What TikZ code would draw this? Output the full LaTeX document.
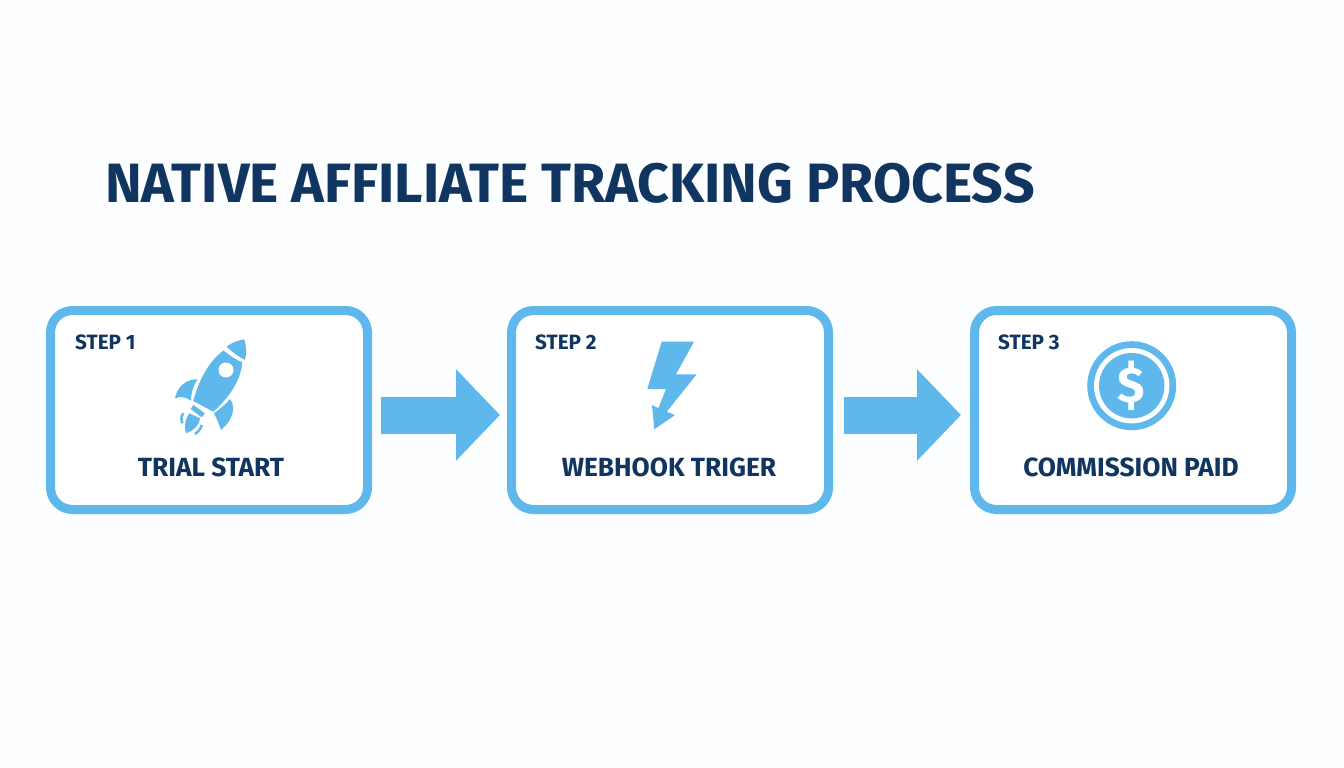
\documentclass[tikz,border=0pt]{standalone}
\usepackage{fontspec}
\setmainfont{Fira Sans}
\usetikzlibrary{arrows.meta}
\definecolor{skyblue}{HTML}{5FB8EC}
\definecolor{navy}{HTML}{0F3560}
\tikzset{
  stepbox/.style={draw=skyblue, line width=9pt, rounded corners=22pt, fill=white, minimum width=317pt, minimum height=199pt, inner sep=0pt},
  steptag/.style={text=navy, font=\fontsize{20.7}{21}\selectfont\bfseries, inner sep=0pt, anchor=west},
  steplabel/.style={text=navy, font=\fontsize{26.3}{27}\selectfont\bfseries, inner sep=0pt},
  flow/.style={draw=skyblue, line width=37pt, -{Triangle[length=44pt,width=89pt]}},
  icon/.style={fill=skyblue, draw=none}
}
\begin{document}
\begin{tikzpicture}[x=1pt,y=-1pt]

\newcommand\BOXY{410}
\newcommand\ARROWDY{-5pt}

\useasboundingbox[fill=white!98!skyblue] (0,0) rectangle (1344,768);

\node[text=navy, font=\fontsize{55.4}{56}\selectfont\bfseries, inner sep=0pt, anchor=west] (title) at (105,183) {NATIVE AFFILIATE TRACKING PROCESS};

%%

\node[stepbox] (boxa) at (209,\BOXY) {};
\node[stepbox] (boxb) at (670,\BOXY) {};
\node[stepbox] (boxc) at (1133,\BOXY) {};

\node[steptag] (taga) at (75,342) {STEP 1};
\node[steptag] (tagb) at (535,342) {STEP 2};
\node[steptag] (tagc) at (998,342) {STEP 3};

\node[steplabel] (labela) at (211,467) {TRIAL START};
\node[steplabel] (labelb) at (669,467) {WEBHOOK TRIGER};
\node[steplabel] (labelc) at (1131,467) {COMMISSION PAID};

%%

\draw[flow, shorten <=9pt, shorten >=7pt] ([yshift=\ARROWDY]boxa.east) -- ([yshift=\ARROWDY]boxb.west);
\draw[flow, shorten <=11pt, shorten >=9pt] ([yshift=\ARROWDY]boxb.east) -- ([yshift=\ARROWDY]boxc.west);

%% rocket

\fill[icon] (244.3,339.3) .. controls (235,341) and (230,344) .. (226.7,346.7) .. controls (232,352) and (239,357) .. (245,360) .. controls (247,353) and (246,345) .. (244.3,339.3);
\fill[icon] (223.5,350.5) .. controls (232,357) and (236,360) .. (242.3,362.3) .. controls (241,378) and (232,395) .. (213.3,411.7) -- (193.3,401) .. controls (198,382) and (208,362) .. (223.5,350.5);
\fill[white] (226,370) circle (7.5pt);
\fill[icon] (197.7,379.3) .. controls (186,379) and (177,387) .. (175,398.3) .. controls (180,396) and (186,397) .. (191,400.7) .. controls (191,393) and (193,386) .. (197.7,379.3);
\fill[icon] (230,399) .. controls (235,406) and (235,418) .. (221,430) .. controls (219,424) and (217,419) .. (214,413.3) .. controls (220,409) and (226,404) .. (230,399);
\fill[icon] (193.3,405) -- (205,413.3) -- (201.7,417.3) -- (190.7,409) -- cycle;
\fill[icon] (189.3,413.3) -- (200,418.3) .. controls (199,426) and (193,431) .. (186,433.3) .. controls (184,427) and (185,419) .. (189.3,413.3);
\draw[skyblue, line width=2.5pt] (183.3,413.3) .. controls (181,416) and (181,420) .. (182.3,423.3);
\draw[skyblue, line width=2.5pt] (201.7,425) .. controls (201,429) and (198,432) .. (195,434);

%% bolt

\fill[icon] (661.7,341.7) -- (694,341.7) -- (676,374.3) -- (696.7,374.3) -- (666.7,411.7) -- (675,415) -- (654.3,429.3) -- (652,405) -- (658.3,408.3) -- (666,389) -- (647.3,389) -- cycle;

%% coin

\fill[icon] (1131.7,385.7) circle (44.5pt);
\fill[white] (1131.7,385.7) circle (37.7pt);
\fill[icon] (1131.7,385.7) circle (32.7pt);
\node[text=white, font=\fontsize{50}{50}\selectfont\bfseries, inner sep=0pt] (dollar) at (1131.7,385.7) {\$};

\end{tikzpicture}
\end{document}
